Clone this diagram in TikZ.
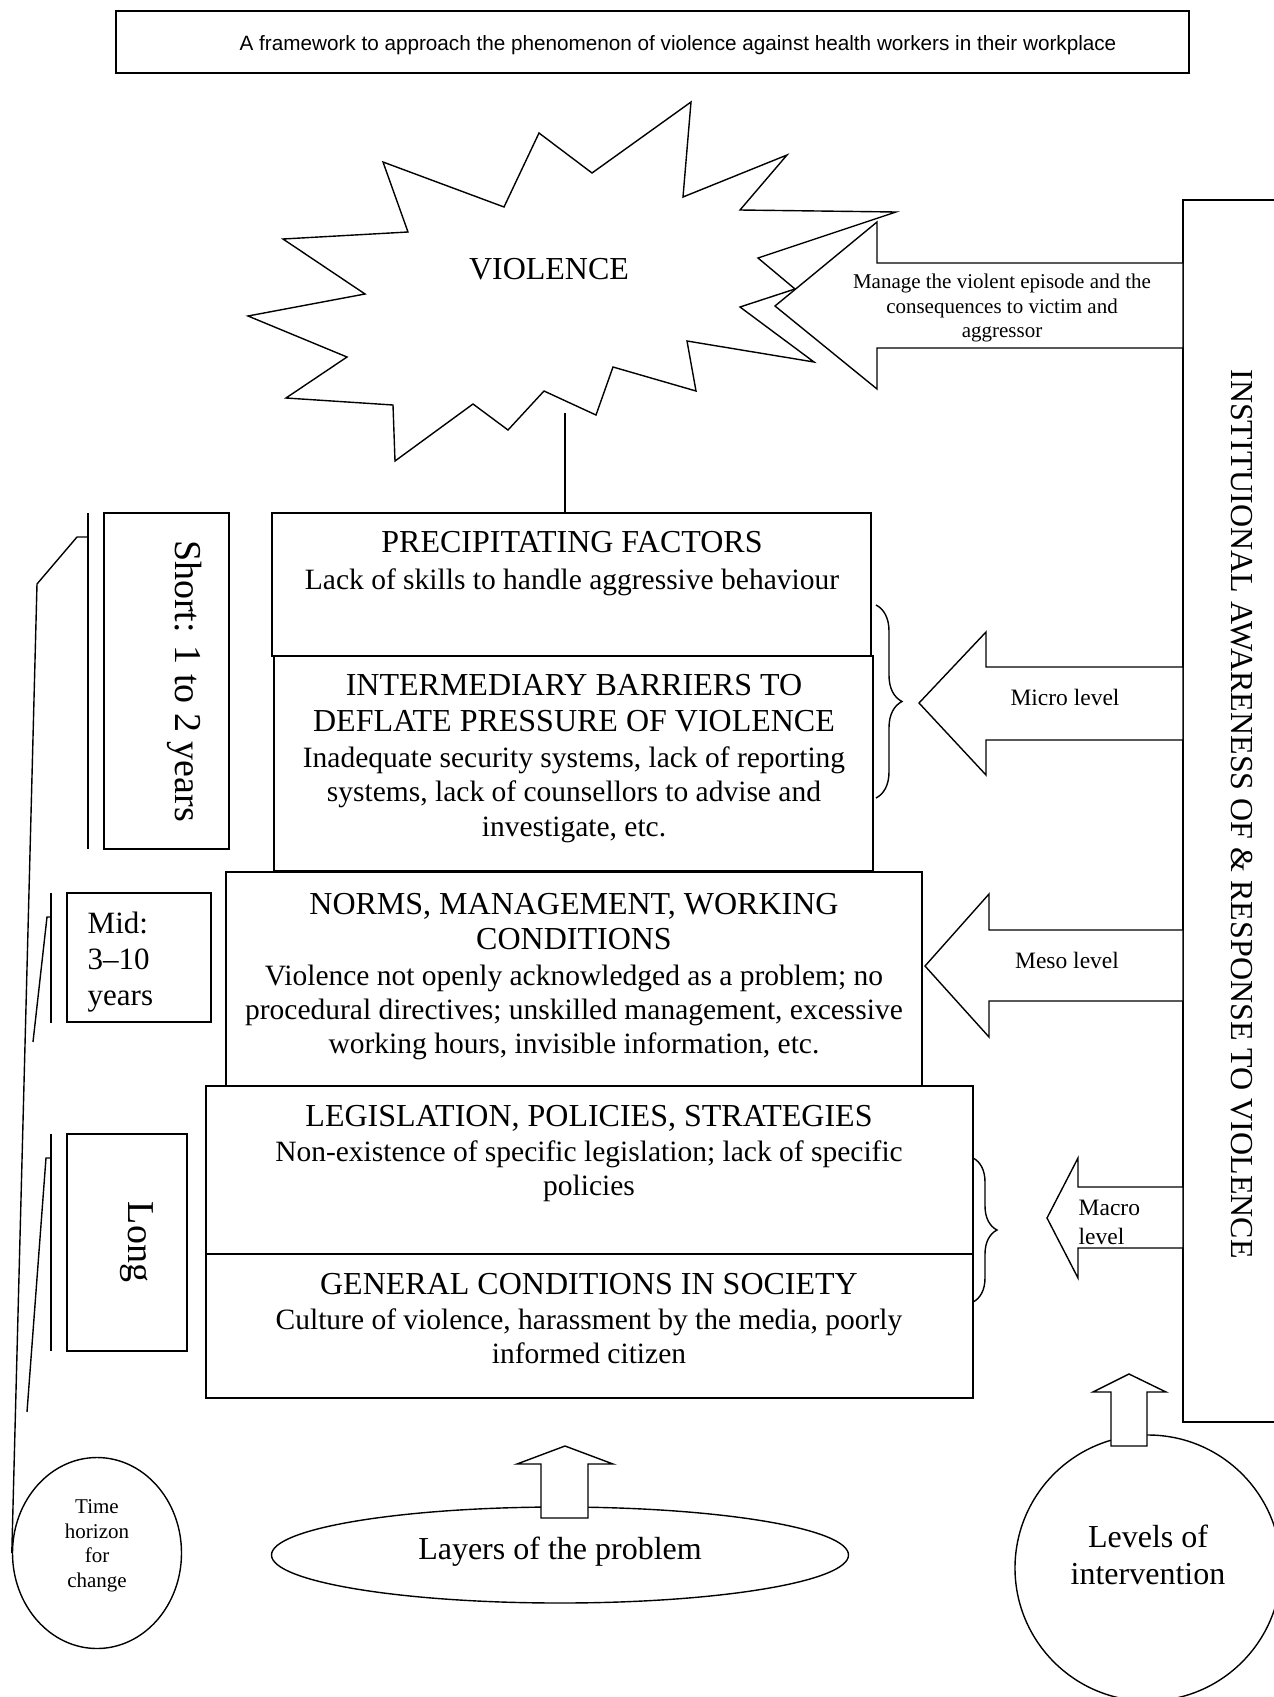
\documentclass[tikz,border=0pt]{standalone}
\usepackage{fontspec}
\setmainfont{Liberation Serif}
\newfontfamily\titlesans{Liberation Sans}
\usetikzlibrary{shapes.geometric,decorations.pathreplacing}
\newcommand\fsz[1]{\fontsize{#1}{#1}\selectfont}
\begin{document}
\begin{tikzpicture}[x=1pt,y=-1pt,line width=1.4pt,line join=miter,
  box/.style={draw,fill=white,anchor=north west,inner sep=0pt,outer sep=0pt},
  hdr/.style={anchor=base,inner sep=0pt,font=\fsz{32}},
  bod/.style={anchor=base,inner sep=0pt,font=\fsz{29.5}},
  lbl/.style={anchor=base,inner sep=0pt,font=\fsz{21}},
  lvl/.style={anchor=base,inner sep=0pt,font=\fsz{23.5}},
  big/.style={anchor=base,inner sep=0pt,font=\fsz{32}},
  blockarrow/.style={draw,fill=white,line width=1.4pt},
  bracelines/.style={line width=1.4pt}]
\useasboundingbox (0,0) rectangle (1274,1697);

% title
\node[box,minimum width=1073,minimum height=62] (titlebox) at (116,11) {};
\node[anchor=base,inner sep=0pt,font=\titlesans\fsz{20.7}] (titletext) at (678,50)
  {A framework to approach the phenomenon of violence against health workers in their workplace};

% star
\draw[fill=white] (383,162) -- (504,207) -- (539,133) -- (592,173) -- (691,102) -- (683,197)
  -- (787,155) -- (740,210) -- (896,212) -- (758,258) -- (795,289) -- (740,307) -- (814,362)
  -- (687,341) -- (696,391) -- (613,367) -- (596,415) -- (544,391) -- (508,430) -- (473,404)
  -- (395,461) -- (393,405) -- (286,398) -- (347,357) -- (248,316) -- (365,294) -- (283,239)
  -- (408,232) -- cycle;
\node[big] (violence) at (549,279) {VIOLENCE};
\coordinate (starbot) at (565,413);

% institutional box (runs off the right edge)
\coordinate (instTL) at (1183,200);
\coordinate (instBL) at (1183,1422);
\draw (1274,200) -- (instTL) -- (instBL) -- (1274,1422);
\node[big,rotate=-90] (insttext) at (1231,814) {INSTITUIONAL AWARENESS OF \& RESPONSE TO VIOLENCE};

% manage arrow
\draw[blockarrow] (1183,263) -- (877,263) -- (877,222) -- (775,306) -- (877,389) -- (877,348) -- (1183,348) -- cycle;
\node[lbl] (manage1) at (1002,288) {Manage the violent episode and the};
\node[lbl] (manage2) at (1002,313) {consequences to victim and};
\node[lbl] (manage3) at (1002,337) {aggressor};

% main layer boxes
\node[box,minimum width=599,minimum height=143] (precip) at (272,513) {};
\node[box,minimum width=599,minimum height=215] (inter) at (274,656) {};
\node[box,minimum width=696,minimum height=216] (norms) at (226,872) {};
\node[box,minimum width=767,minimum height=168] (legis) at (206,1086) {};
\node[box,minimum width=767,minimum height=144] (general) at (206,1254) {};
\draw (starbot) -- (starbot |- precip.north);

\node[hdr] (p1) at (572,552) {PRECIPITATING FACTORS};
\node[bod] (p2) at (572,589) {Lack of skills to handle aggressive behaviour};

\node[hdr] (i1) at (574,695) {INTERMEDIARY BARRIERS TO};
\node[hdr] (i2) at (574,731) {DEFLATE PRESSURE OF VIOLENCE};
\node[bod] (i3) at (574,767) {Inadequate security systems, lack of reporting};
\node[bod] (i4) at (574,801) {systems, lack of counsellors to advise and};
\node[bod] (i5) at (574,836) {investigate, etc.};

\node[hdr] (n1) at (574,914) {NORMS, MANAGEMENT, WORKING};
\node[hdr] (n2) at (574,949) {CONDITIONS};
\node[bod] (n3) at (574,985) {Violence not openly acknowledged as a problem; no};
\node[bod] (n4) at (574,1019) {procedural directives; unskilled management, excessive};
\node[bod] (n5) at (574,1053) {working hours, invisible information, etc.};

\node[hdr] (g1) at (589,1126) {LEGISLATION, POLICIES, STRATEGIES};
\node[bod] (g2) at (589,1161) {Non-existence of specific legislation; lack of specific};
\node[bod] (g3) at (589,1195) {policies};

\node[hdr] (s1) at (589,1294) {GENERAL CONDITIONS IN SOCIETY};
\node[bod] (s2) at (589,1329) {Culture of violence, harassment by the media, poorly};
\node[bod] (s3) at (589,1363) {informed citizen};

% braces
\draw[decorate,decoration={brace,amplitude=26pt}] (876,605) -- (876,798);
\draw[decorate,decoration={brace,amplitude=24pt}] (973,1158) -- (973,1302);

% level arrows
\draw[blockarrow] (1183,667) -- (986,667) -- (986,632) -- (919,703) -- (986,775) -- (986,740) -- (1183,740) -- cycle;
\node[lvl] (micro) at (1065,705) {Micro level};
\draw[blockarrow] (1183,930) -- (989,930) -- (989,894) -- (925,966) -- (989,1037) -- (989,1001) -- (1183,1001) -- cycle;
\node[lvl] (meso) at (1067,968) {Meso level};
\draw[blockarrow] (1183,1187) -- (1078,1187) -- (1078,1158) -- (1047,1218) -- (1078,1278) -- (1078,1248) -- (1183,1248) -- cycle;
\node[lvl,anchor=base west] (macro1) at (1078,1215) {Macro};
\node[lvl,anchor=base west] (macro2) at (1078,1244) {level};

% time horizon boxes
\node[box,minimum width=125,minimum height=336] (shortbox) at (104,513) {};
\node[anchor=base,inner sep=0pt,font=\fsz{38},rotate=-90] (shorttext) at (175,681) {Short: 1 to 2 years};
\node[box,minimum width=144,minimum height=129] (midbox) at (67,893) {};
\node[anchor=base west,inner sep=0pt,font=\fsz{31}] (mid1) at (87,933) {Mid:};
\node[anchor=base west,inner sep=0pt,font=\fsz{31}] (mid2) at (87,969) {3--10};
\node[anchor=base west,inner sep=0pt,font=\fsz{31}] (mid3) at (87,1005) {years};
\node[box,minimum width=120,minimum height=217] (longbox) at (67,1134) {};
\node[anchor=base,inner sep=0pt,font=\fsz{38},rotate=-90] (longtext) at (128,1242) {Long};

% time ellipse
\node[draw,ellipse,minimum width=169,minimum height=191,inner sep=0pt] (timeell) at (97,1553) {};
\node[lbl] (t1) at (97,1513) {Time};
\node[lbl] (t2) at (97,1538) {horizon};
\node[lbl] (t3) at (97,1562) {for};
\node[lbl] (t4) at (97,1587) {change};

% bracket lines
\draw (88,513) -- (88,849);
\draw (88,537) -- (77,537) -- (37,584) -- (timeell.west);
\draw (51,893) -- (51,1023);
\draw (51,917) -- (47,917) -- (33,1042);
\draw (51,1134) -- (51,1351);
\draw (51,1158) -- (46,1158) -- (27,1412);

% layers ellipse
\node[draw,ellipse,minimum width=577,minimum height=96,inner sep=0pt] (layers) at (560,1555) {};
\node[big] (layerstext) at (560,1559) {Layers of the problem};
\draw[blockarrow] (541,1518) -- (541,1464) -- (517,1464) -- (565,1446) -- (613,1464) -- (588,1464) -- (588,1518) -- cycle;

% levels circle
\node[draw,circle,minimum size=266,inner sep=0pt] (levels) at (1148,1568) {};
\node[big] (lev1) at (1148,1547) {Levels of};
\node[big] (lev2) at (1148,1584) {intervention};
\draw[blockarrow] (1111,1446) -- (1111,1392) -- (1093,1392) -- (1129,1374) -- (1166,1392) -- (1147,1392) -- (1147,1446) -- cycle;
\end{tikzpicture}
\end{document}
